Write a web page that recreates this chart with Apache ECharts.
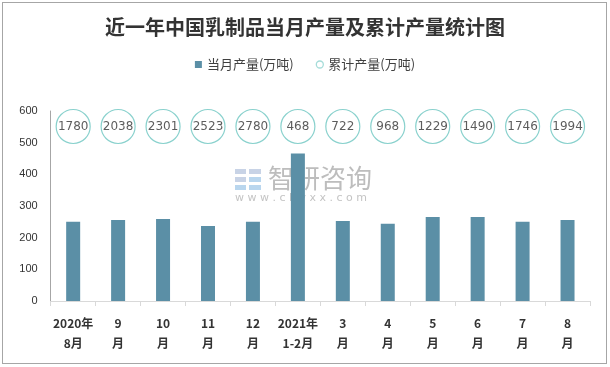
<!DOCTYPE html>
<html><head><meta charset="utf-8">
<script src="https://cdn.jsdelivr.net/npm/echarts@6/dist/echarts.min.js"></script>
<style>html,body{margin:0;padding:0;background:#fff}#c{width:610px;height:367px}</style>
</head><body><div id="c"></div>
<script>
const categories = ['2020年\n8月','9\n月','10\n月','11\n月','12\n月','2021年\n1-2月','3\n月','4\n月','5\n月','6\n月','7\n月','8\n月'];
const monthly = [250, 256, 259, 237, 250, 466, 253, 244, 265, 265, 250, 256];
const cumulative = [1780, 2038, 2301, 2523, 2780, 468, 722, 968, 1229, 1490, 1746, 1994];
const yTicks = {min: 0, max: 600, interval: 100};

const chart = echarts.init(document.getElementById('c'), null, {renderer: 'canvas'});
const L = 50.7, R = 20;
chart.setOption({
  animation: false,
  backgroundColor: '#fff',
  title: {
    text: '近一年中国乳制品当月产量及累计产量统计图',
    left: 'center', top: 12,
    textStyle: {fontFamily: 'Noto Sans CJK SC', fontSize: 20, fontWeight: 'bold', color: '#333'}
  },
  legend: {
    top: 53, left: 'center', itemGap: 22, itemWidth: 7, itemHeight: 7,
    textStyle: {fontFamily: 'Noto Sans CJK SC', fontSize: 13, color: '#404040'},
    data: [
      {name: '当月产量(万吨)', icon: 'rect'},
      {name: '累计产量(万吨)', icon: 'circle', itemStyle: {color: '#fff', borderColor: '#8fd3cf', borderWidth: 1.3}}
    ]
  },
  graphic: [
    {type: 'group', left: 235, top: 165, z: -10, silent: true, children: [
      {type: 'rect', shape: {x: 0, y: 0, width: 11, height: 5}, style: {fill: '#c8d3e6'}},
      {type: 'rect', shape: {x: 0, y: 8, width: 11, height: 5}, style: {fill: '#c8d3e6'}},
      {type: 'rect', shape: {x: 0, y: 16, width: 11, height: 5}, style: {fill: '#b9d6ee'}},
      {type: 'rect', shape: {x: 14, y: 0, width: 12, height: 5}, style: {fill: '#c8d3e6'}},
      {type: 'rect', shape: {x: 14, y: 8, width: 12, height: 5}, style: {fill: '#b9d6ee'}},
      {type: 'rect', shape: {x: 14, y: 16, width: 12, height: 5}, style: {fill: '#b9d6ee'}},
      {type: 'text', x: 33, y: -4, style: {text: '智研咨询', font: '26px "Noto Sans CJK SC"', fill: '#bdbdbd'}},
      {type: 'text', x: 0, y: 24, style: {text: 'w w w . c h y x x . c o m', font: '11px "DejaVu Sans"', fill: '#c4c4c4'}}
    ]}
  ],
  grid: [
    {left: L, right: R, top: 111, bottom: 66},
    {left: L, right: R, top: 109, height: 35}
  ],
  xAxis: [
    {type: 'category', gridIndex: 0, data: categories,
      axisLine: {lineStyle: {color: '#d9d9d9', width: 1}},
      axisTick: {show: true, length: 5, lineStyle: {color: '#d9d9d9'}},
      axisLabel: {interval: 0, margin: 12, lineHeight: 20, color: '#333', fontWeight: 'bold', fontSize: 12, fontFamily: 'Noto Sans CJK SC'}},
    {type: 'category', gridIndex: 1, data: categories, show: false}
  ],
  yAxis: [
    {type: 'value', gridIndex: 0, min: yTicks.min, max: yTicks.max, interval: yTicks.interval,
      splitLine: {show: false},
      axisLine: {show: true, lineStyle: {color: '#a6a6a6'}},
      axisTick: {show: false},
      axisLabel: {margin: 13, color: '#333', fontSize: 11, fontFamily: 'Liberation Sans'}},
    {type: 'category', gridIndex: 1, data: ['累计'], show: false}
  ],
  series: [
    {name: '当月产量(万吨)', type: 'bar', xAxisIndex: 0, yAxisIndex: 0, data: monthly,
      barWidth: 14, itemStyle: {color: '#5b8fa6'}},
    {name: '累计产量(万吨)', type: 'scatter', xAxisIndex: 1, yAxisIndex: 1,
      data: cumulative.map((v, i) => [i, 0, v]),
      symbol: 'circle', symbolSize: 34,
      itemStyle: {color: '#fff', borderColor: '#6cc6c1', borderWidth: 1.2},
      label: {show: true, position: 'inside', formatter: p => p.value[2], color: '#333', fontSize: 12, fontFamily: 'DejaVu Sans'}}
  ]
});
</script>
<div style="position:absolute;left:2px;top:2px;width:603px;height:360px;border:1px solid #a6a6a6;pointer-events:none"></div>
</body></html>
